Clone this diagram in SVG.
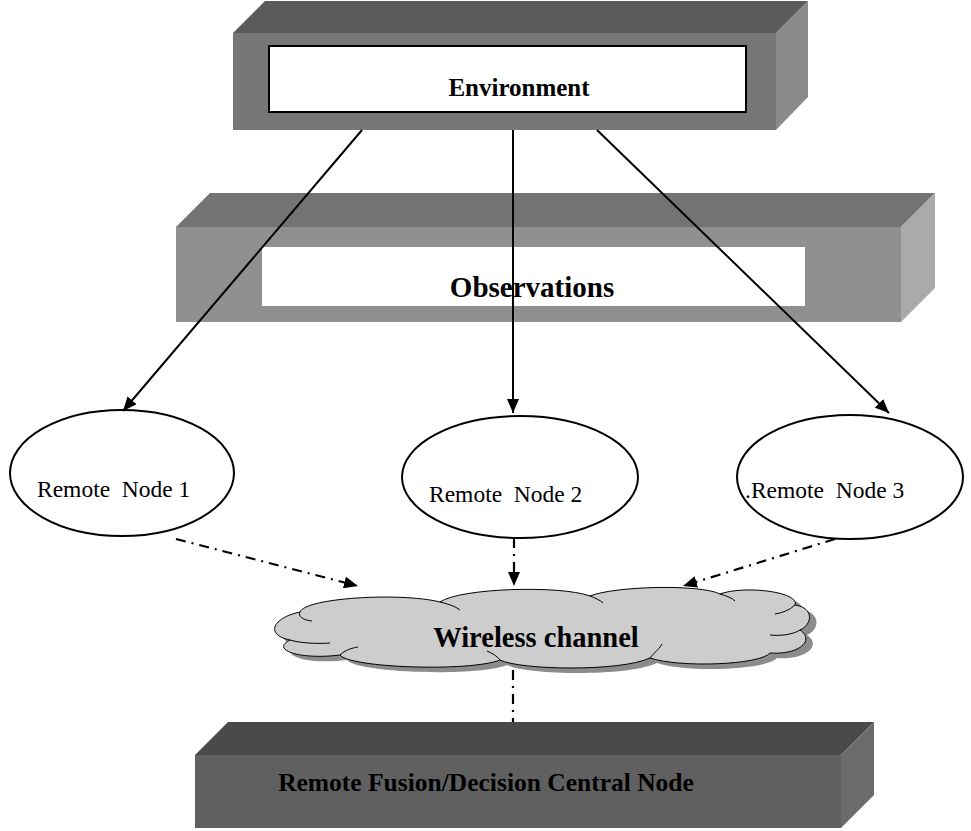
<svg xmlns="http://www.w3.org/2000/svg" width="971" height="831" viewBox="0 0 971 831">
<style>
.bold{font-family:"Liberation Serif","Times New Roman",serif;font-weight:bold;fill:#000;text-anchor:middle}
.reg{font-family:"Liberation Serif","Times New Roman",serif;font-size:23.5px;fill:#000;white-space:pre}
.solid{stroke:#000;stroke-width:2;fill:none}
.dash{stroke:#000;stroke-width:2.2;fill:none;stroke-dasharray:10 6 2 6}
.ell{fill:#fff;stroke:#000;stroke-width:2}
</style>
<defs>
<marker id="ah" viewBox="0 0 14 12" refX="14" refY="6" markerWidth="14" markerHeight="12" markerUnits="userSpaceOnUse" orient="auto">
<path d="M0,0 L14,6 L0,12 Z" fill="#000"/>
</marker>
</defs>
<rect width="971" height="831" fill="#fff"/>

<g id="environment">
<polygon points="233,33 265,1 808,1 776,33" fill="#5a5a5a"/>
<polygon points="776,33 808,1 808,97 776,130" fill="#8a8a8a"/>
<rect x="233" y="33" width="543" height="97" fill="#777"/>
<rect x="269" y="46" width="477" height="66" fill="#fff" stroke="#000" stroke-width="2"/>
<text class="bold" x="519" y="96" font-size="25">Environment</text>
</g>

<g id="observations">
<polygon points="176,227 210,193 935,193 901,227" fill="#737373"/>
<polygon points="901,227 935,193 935,288 901,322" fill="#aaa"/>
<rect x="176" y="227" width="725" height="95" fill="#909090"/>
<rect x="262" y="247" width="543" height="59" fill="#fff"/>
<text class="bold" x="532" y="297" font-size="29">Observations</text>
</g>

<g id="node1">
<ellipse class="ell" cx="122" cy="473" rx="112" ry="63"/>
<text class="reg" x="37" y="497" xml:space="preserve">Remote  Node 1</text>
</g>
<g id="node2">
<ellipse class="ell" cx="520" cy="477" rx="118" ry="61"/>
<text class="reg" x="429" y="502" xml:space="preserve">Remote  Node 2</text>
</g>
<g id="node3">
<ellipse class="ell" cx="850" cy="477" rx="113" ry="62"/>
<text class="reg" x="745" y="498" xml:space="preserve">.Remote  Node 3</text>
</g>

<g id="wireless">
<path transform="translate(7,5)" fill="#8c8c8c" d="M300,612 C305,598 400,592 440,602 C460,588 560,585 590,596 C615,586 700,584 720,594 C745,585 800,592 795,605 C815,608 812,625 800,630 C815,640 800,655 770,653 C760,665 680,668 650,658 C620,672 520,670 500,660 C470,672 350,668 340,655 C300,660 270,650 290,640 C265,635 272,618 300,612 Z"/>
<path fill="#cdcdcd" stroke="#000" stroke-width="1" d="M300,612 C305,598 400,592 440,602 C460,588 560,585 590,596 C615,586 700,584 720,594 C745,585 800,592 795,605 C815,608 812,625 800,630 C815,640 800,655 770,653 C760,665 680,668 650,658 C620,672 520,670 500,660 C470,672 350,668 340,655 C300,660 270,650 290,640 C265,635 272,618 300,612 Z"/>
<path fill="none" stroke="#000" stroke-width="1" d="M300,612 C298,616 302,620 312,621 M290,640 C300,643 315,644 330,643 M440,602 C448,604 455,606 460,610 M590,596 C595,598 600,600 603,603 M720,594 C727,596 732,598 735,601 M795,605 C790,610 782,613 775,614 M800,630 C792,635 780,636 770,635 M650,658 C655,652 660,648 662,644 M500,660 C497,656 492,653 487,651 M340,655 C345,650 352,648 358,647"/>
<text class="bold" x="536" y="647" font-size="28.5">Wireless channel</text>
</g>

<g id="central">
<polygon points="195,755 228,722 874,722 841,755" fill="#4a4a4a"/>
<polygon points="841,755 874,722 874,795 841,828" fill="#6c6c6c"/>
<rect x="195" y="755" width="646" height="73" fill="#606060"/>
<text class="bold" x="486" y="791" font-size="25.5">Remote Fusion/Decision Central Node</text>
</g>

<g id="connectors">
<line class="solid" x1="362" y1="130" x2="123" y2="411" marker-end="url(#ah)"/>
<line class="solid" x1="513" y1="130" x2="513" y2="413" marker-end="url(#ah)"/>
<line class="solid" x1="597" y1="130" x2="889" y2="413" marker-end="url(#ah)"/>
<line class="dash" x1="176" y1="539" x2="358" y2="586" marker-end="url(#ah)"/>
<line class="dash" x1="514" y1="538" x2="514" y2="586" marker-end="url(#ah)"/>
<line class="dash" x1="835" y1="539" x2="683" y2="586" marker-end="url(#ah)"/>
<line class="dash" x1="513" y1="670" x2="513" y2="722"/>
</g>
</svg>
